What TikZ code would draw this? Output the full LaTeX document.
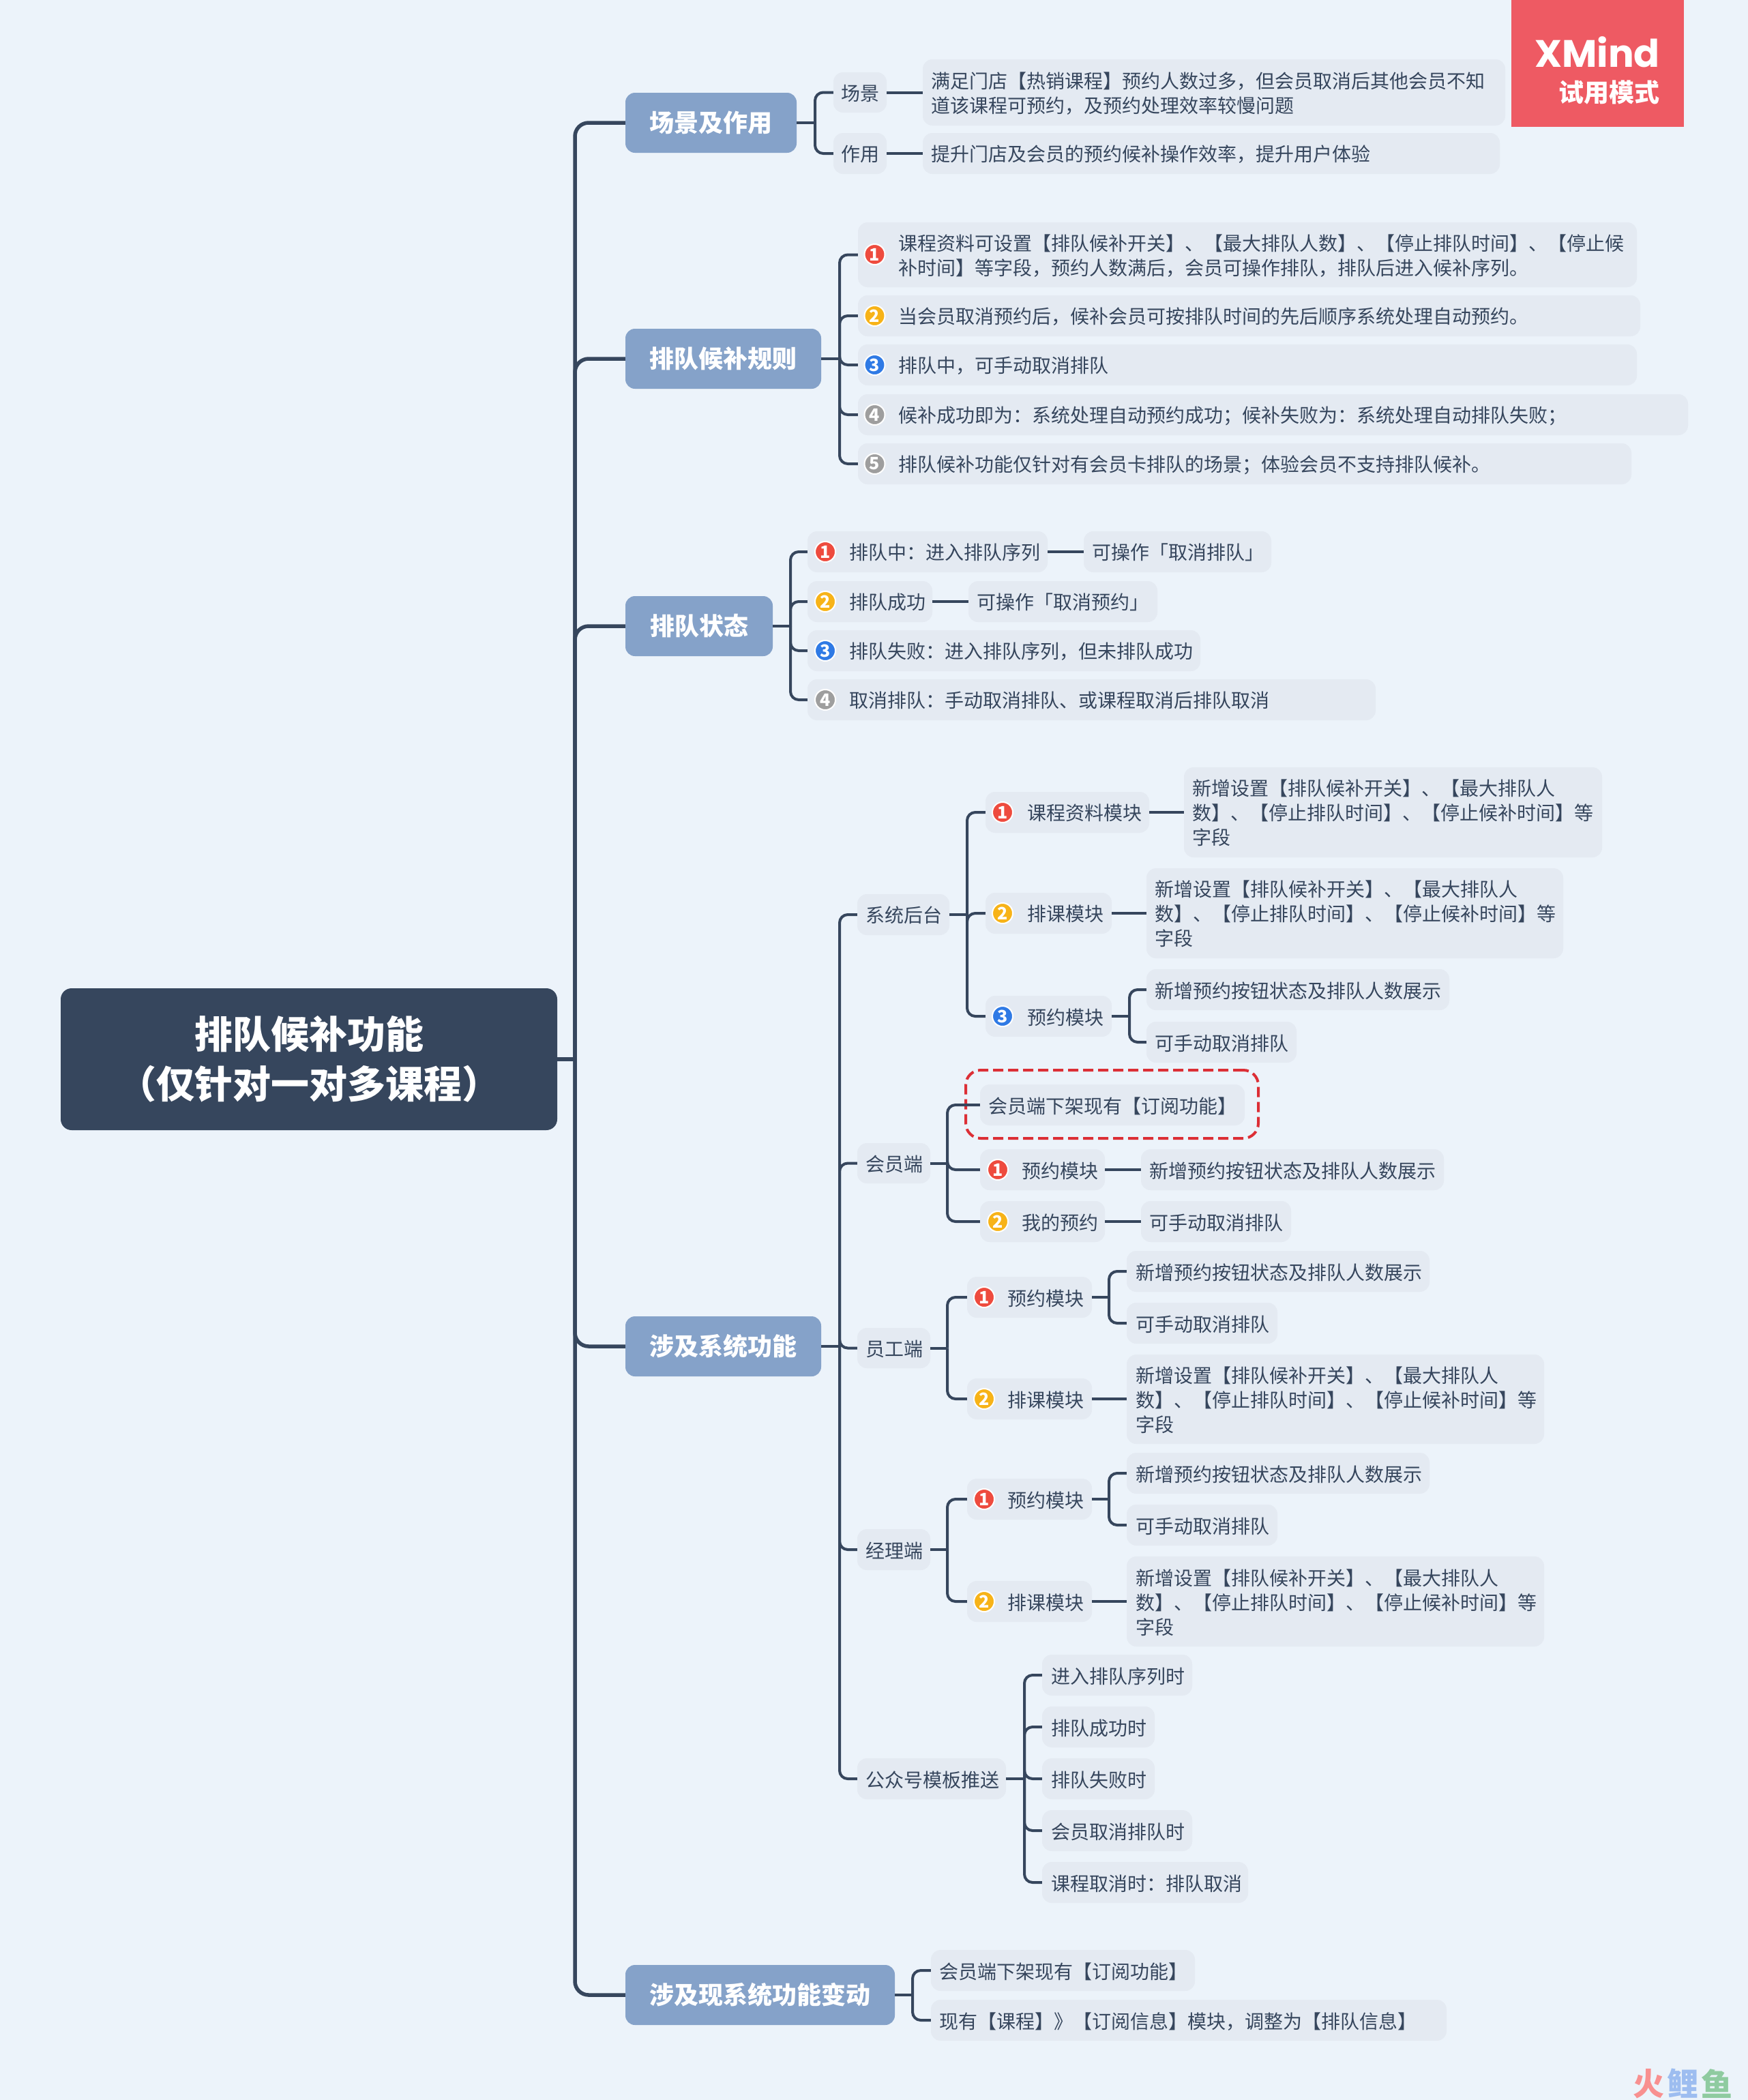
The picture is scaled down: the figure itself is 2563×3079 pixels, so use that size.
\documentclass[tikz,border=0pt]{standalone}
\usepackage{fontspec}
\setmainfont{Noto Sans CJK SC}
\newfontfamily\xmfont{Poppins}
\usetikzlibrary{calc}
\definecolor{bgc}{HTML}{ECF3FA}
\definecolor{boxc}{HTML}{E4EAF2}
\definecolor{ink}{HTML}{36465D}
\definecolor{brc}{HTML}{85A2C9}
\definecolor{xmc}{HTML}{EE5A63}
\definecolor{ired}{HTML}{EE4B3E}
\definecolor{iora}{HTML}{F7B318}
\definecolor{iblu}{HTML}{2F7AE5}
\definecolor{igry}{HTML}{9E9E9E}
\definecolor{dashc}{HTML}{DC2F36}
\definecolor{wmr}{HTML}{F89090}
\definecolor{wmb}{HTML}{9DBDF0}
\definecolor{wmg}{HTML}{8FCBA0}
\tikzset{
  centralbox/.style={rectangle,rounded corners=16pt,fill=ink,text=white,align=center,inner sep=0pt,font=\fontsize{56}{73}\selectfont\bfseries},
  branchbox/.style={rectangle,rounded corners=14pt,fill=brc,text=white,align=center,inner sep=0pt,font=\fontsize{36}{46}\selectfont\bfseries},
  tb/.style={rectangle,rounded corners=14pt,fill=boxc,text=ink,inner sep=0pt,font=\fontsize{28}{36}\selectfont},
  icon/.style={circle,draw=white,line width=2pt,minimum size=30pt,inner sep=0pt,text=white,font=\fontsize{25}{25}\selectfont\bfseries},
  lnkmain/.style={draw=ink,line width=5.5pt,rounded corners=20pt},
  lnkstub/.style={draw=ink,line width=5.5pt},
  lnk/.style={draw=ink,line width=4pt,rounded corners=12pt},
  dashbox/.style={rectangle,rounded corners=22pt,draw=dashc,dash pattern=on 15pt off 7pt,line width=4pt},
}
\newcommand{\mkbox}[7]{%
  % name x1 y1 x2 y2 textx text
  \pgfmathsetmacro\bxW{#4-#2}\pgfmathsetmacro\bxH{#5-#3}\pgfmathsetmacro\bxCx{(#2+#4)/2}\pgfmathsetmacro\bxCy{(#3+#5)/2}\pgfmathsetmacro\bxP{#6-#2}%
  \node[tb,minimum width=\bxW pt,minimum height=\bxH pt] (#1) at (\bxCx,\bxCy) {\makebox[\bxW pt][l]{\hspace*{\bxP pt}\smash{\raisebox{-11pt}{\begin{tabular}{@{}l@{}}#7\end{tabular}}}}};%
}
\newcommand{\mkic}[5]{\node[icon,fill=#4] (#1) at (#2,#3) {#5};}
\newcommand{\brk}[3]{\draw[lnk] (#1.east) -- (#2,0 |- #1.east);\draw[lnk] (#2,0 |- #1.east) -- (#2,0 |- #3.west) -- (#3.west);}
\newcommand{\mainlnk}[1]{\draw[lnkmain] (843,0 |- root.east) -- (843,0 |- #1.west) -- (#1.west);}
\begin{document}
\begin{tikzpicture}[x=1pt,y=-1pt]
\useasboundingbox (0,0) rectangle (2563,3079);
\fill[bgc] (0,0) rectangle (2563,3079);
% root
\node[centralbox,minimum width=728pt,minimum height=208pt] (root) at (453,1553) {排队候补功能\\（仅针对一对多课程）};
% branches
\node[branchbox,minimum width=251pt,minimum height=88pt] (b1) at (1042.5,180) {场景及作用};
\node[branchbox,minimum width=287pt,minimum height=88pt] (b2) at (1060.5,526) {排队候补规则};
\node[branchbox,minimum width=216pt,minimum height=88pt] (b3) at (1025,918) {排队状态};
\node[branchbox,minimum width=287pt,minimum height=88pt] (b4) at (1060.5,1974) {涉及系统功能};
\node[branchbox,minimum width=395pt,minimum height=88pt] (b5) at (1114.5,2925) {涉及现系统功能变动};
\draw[lnkstub] (root.east) -- (843,0 |- root.east);
\mainlnk{b1}\mainlnk{b2}\mainlnk{b3}\mainlnk{b4}\mainlnk{b5}
% XMind
\node[rectangle,fill=xmc,minimum width=253pt,minimum height=186pt,inner sep=0pt] (xm) at (2342.5,93) {};
\node[text=white,inner sep=0pt,font=\xmfont\fontsize{56}{56}\selectfont\bfseries] (xmt) at (2342,76) {XMind};
\node[text=white,inner sep=0pt,font=\fontsize{37}{37}\selectfont\bfseries] (xms) at (2359,135) {试用模式};
% b1
\mkbox{a1}{1222}{106}{1300}{165}{1233}{场景}
\mkbox{a1d}{1353}{87}{2207}{184}{1365}{满足门店【热销课程】预约人数过多，但会员取消后其他会员不知\\道该课程可预约，及预约处理效率较慢问题}
\mkbox{a2}{1222}{195}{1300}{255}{1233}{作用}
\mkbox{a2d}{1353}{195}{2199}{255}{1365}{提升门店及会员的预约候补操作效率，提升用户体验}
\brk{b1}{1195}{a1}\brk{b1}{1195}{a2}
\draw[lnk] (a1) -- (a1d);\draw[lnk] (a2) -- (a2d);
% b2
\mkbox{r1}{1258}{326}{2400}{421}{1317}{课程资料可设置【排队候补开关】、【最大排队人数】、【停止排队时间】、【停止候\\补时间】等字段，预约人数满后，会员可操作排队，排队后进入候补序列。}
\mkbox{r2}{1258}{433}{2405}{493}{1317}{当会员取消预约后，候补会员可按排队时间的先后顺序系统处理自动预约。}
\mkbox{r3}{1258}{505}{2400}{565}{1317}{排队中，可手动取消排队}
\mkbox{r4}{1258}{578}{2475}{638}{1317}{候补成功即为：系统处理自动预约成功；候补失败为：系统处理自动排队失败；}
\mkbox{r5}{1258}{650}{2392}{710}{1317}{排队候补功能仅针对有会员卡排队的场景；体验会员不支持排队候补。}
\mkic{ri1}{1282.5}{373}{ired}{1}\mkic{ri2}{1282.5}{463}{iora}{2}\mkic{ri3}{1282.5}{535}{iblu}{3}\mkic{ri4}{1282.5}{608}{igry}{4}\mkic{ri5}{1282.5}{680}{igry}{5}
\brk{b2}{1231}{r1}\brk{b2}{1231}{r2}\brk{b2}{1231}{r3}\brk{b2}{1231}{r4}\brk{b2}{1231}{r5}
% b3
\mkbox{s1}{1184}{779}{1536}{839}{1245}{排队中：进入排队序列}
\mkbox{s1b}{1589}{779}{1864}{839}{1601}{可操作「取消排队」}
\mkbox{s2}{1184}{852}{1367}{912}{1245}{排队成功}
\mkbox{s2b}{1420}{852}{1697}{912}{1432}{可操作「取消预约」}
\mkbox{s3}{1184}{924}{1760}{984}{1245}{排队失败：进入排队序列，但未排队成功}
\mkbox{s4}{1184}{996}{2017}{1056}{1245}{取消排队：手动取消排队、或课程取消后排队取消}
\mkic{si1}{1210}{809}{ired}{1}\mkic{si2}{1210}{882}{iora}{2}\mkic{si3}{1210}{954}{iblu}{3}\mkic{si4}{1210}{1026}{igry}{4}
\brk{b3}{1159}{s1}\brk{b3}{1159}{s2}\brk{b3}{1159}{s3}\brk{b3}{1159}{s4}
\draw[lnk] (s1) -- (s1b);\draw[lnk] (s2) -- (s2b);
% b4
\mkbox{sys}{1257}{1311}{1392}{1371}{1269}{系统后台}
\mkbox{mem}{1257}{1676}{1364}{1735}{1269}{会员端}
\mkbox{stf}{1257}{1947}{1364}{2006}{1269}{员工端}
\mkbox{mgr}{1257}{2242}{1364}{2302}{1269}{经理端}
\mkbox{wx}{1257}{2578}{1475}{2638}{1269}{公众号模板推送}
\brk{b4}{1231}{sys}\brk{b4}{1231}{mem}\brk{b4}{1231}{stf}\brk{b4}{1231}{mgr}\brk{b4}{1231}{wx}
% sys
\mkbox{c1}{1445}{1161}{1685}{1221}{1506}{课程资料模块}
\mkbox{c1d}{1736}{1125}{2349}{1257}{1748}{新增设置【排队候补开关】、【最大排队人\\数】、【停止排队时间】、【停止候补时间】等\\字段}
\mkbox{c2}{1445}{1309}{1630}{1369}{1506}{排课模块}
\mkbox{c2d}{1681}{1273}{2292}{1405}{1693}{新增设置【排队候补开关】、【最大排队人\\数】、【停止排队时间】、【停止候补时间】等\\字段}
\mkbox{c3}{1445}{1460}{1630}{1520}{1506}{预约模块}
\mkbox{c3a}{1681}{1421}{2125}{1481}{1693}{新增预约按钮状态及排队人数展示}
\mkbox{c3b}{1681}{1498}{1901}{1558}{1693}{可手动取消排队}
\mkic{ci1}{1470}{1191}{ired}{1}\mkic{ci2}{1470}{1339}{iora}{2}\mkic{ci3}{1470}{1490}{iblu}{3}
\brk{sys}{1418}{c1}\brk{sys}{1418}{c2}\brk{sys}{1418}{c3}
\draw[lnk] (c1) -- (c1d);\draw[lnk] (c2) -- (c2d);
\brk{c3}{1656}{c3a}\brk{c3}{1656}{c3b}
% member
\mkbox{m0}{1437}{1590}{1825}{1650}{1449}{会员端下架现有【订阅功能】}
\node[dashbox,minimum width=429pt,minimum height=100pt] (md) at (1630.5,1619) {};
\mkbox{m1}{1437}{1685}{1620}{1745}{1498}{预约模块}
\mkbox{m1d}{1673}{1685}{2117}{1745}{1685}{新增预约按钮状态及排队人数展示}
\mkbox{m2}{1437}{1761}{1620}{1821}{1498}{我的预约}
\mkbox{m2d}{1673}{1761}{1893}{1821}{1685}{可手动取消排队}
\mkic{mi1}{1463}{1715}{ired}{1}\mkic{mi2}{1463}{1791}{iora}{2}
\brk{mem}{1389}{m0}\brk{mem}{1389}{m1}\brk{mem}{1389}{m2}
\draw[lnk] (m1) -- (m1d);\draw[lnk] (m2) -- (m2d);
% staff
\mkbox{t1}{1418}{1872}{1601}{1932}{1477}{预约模块}
\mkbox{t1a}{1652}{1834}{2096}{1894}{1665}{新增预约按钮状态及排队人数展示}
\mkbox{t1b}{1652}{1910}{1873}{1970}{1665}{可手动取消排队}
\mkbox{t2}{1418}{2021}{1601}{2081}{1477}{排课模块}
\mkbox{t2d}{1652}{1986}{2264}{2117}{1665}{新增设置【排队候补开关】、【最大排队人\\数】、【停止排队时间】、【停止候补时间】等\\字段}
\mkic{ti1}{1443}{1902}{ired}{1}\mkic{ti2}{1443}{2051}{iora}{2}
\brk{stf}{1389}{t1}\brk{stf}{1389}{t2}
\brk{t1}{1626}{t1a}\brk{t1}{1626}{t1b}
\draw[lnk] (t2) -- (t2d);
% manager
\mkbox{g1}{1418}{2168}{1601}{2228}{1477}{预约模块}
\mkbox{g1a}{1652}{2130}{2096}{2190}{1665}{新增预约按钮状态及排队人数展示}
\mkbox{g1b}{1652}{2206}{1873}{2266}{1665}{可手动取消排队}
\mkbox{g2}{1418}{2318}{1601}{2378}{1477}{排课模块}
\mkbox{g2d}{1652}{2282}{2264}{2414}{1665}{新增设置【排队候补开关】、【最大排队人\\数】、【停止排队时间】、【停止候补时间】等\\字段}
\mkic{gi1}{1443}{2198}{ired}{1}\mkic{gi2}{1443}{2348}{iora}{2}
\brk{mgr}{1389}{g1}\brk{mgr}{1389}{g2}
\brk{g1}{1626}{g1a}\brk{g1}{1626}{g1b}
\draw[lnk] (g2) -- (g2d);
% wechat
\mkbox{w1}{1528}{2426}{1748}{2486}{1541}{进入排队序列时}
\mkbox{w2}{1528}{2502}{1693}{2562}{1541}{排队成功时}
\mkbox{w3}{1528}{2578}{1693}{2638}{1541}{排队失败时}
\mkbox{w4}{1528}{2654}{1748}{2714}{1541}{会员取消排队时}
\mkbox{w5}{1528}{2730}{1830}{2790}{1541}{课程取消时：排队取消}
\brk{wx}{1502}{w1}\brk{wx}{1502}{w2}\brk{wx}{1502}{w3}\brk{wx}{1502}{w4}\brk{wx}{1502}{w5}
% b5
\mkbox{v1}{1365}{2859}{1752}{2919}{1377}{会员端下架现有【订阅功能】}
\mkbox{v2}{1365}{2932}{2121}{2992}{1377}{现有【课程】》【订阅信息】模块，调整为【排队信息】}
\brk{b5}{1338}{v1}\brk{b5}{1338}{v2}
% watermark
\node[text=wmr,inner sep=0pt,font=\fontsize{46}{46}\selectfont\bfseries] (wm1) at (2417,3055) {火};
\node[text=wmb,inner sep=0pt,font=\fontsize{46}{46}\selectfont\bfseries] (wm2) at (2467,3055) {鲤};
\node[text=wmg,inner sep=0pt,font=\fontsize{46}{46}\selectfont\bfseries] (wm3) at (2517,3055) {鱼};
\end{tikzpicture}
\end{document}
